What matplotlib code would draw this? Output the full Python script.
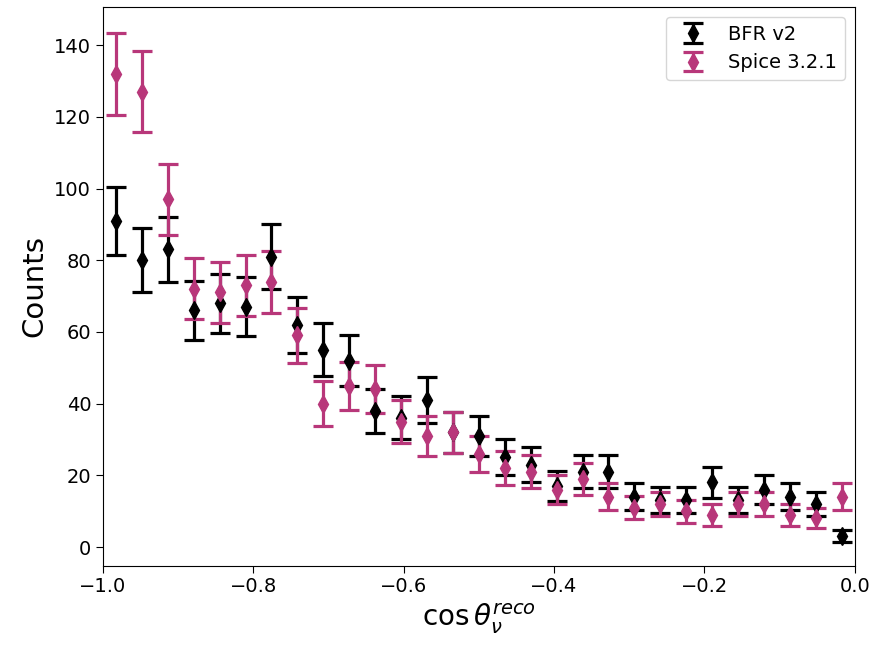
import numpy as np
import matplotlib
matplotlib.use("Agg")
import matplotlib.pyplot as plt

# 29 equal bins in cos(theta) between -1 and 0
bin_edges = np.linspace(-1.0, 0.0, 30)
bfr_counts = [91, 80, 83, 66, 68, 67, 81, 62, 55, 52, 38, 36, 41, 32, 31,
              25, 23, 17, 21, 21, 14, 13, 13, 18, 13, 16, 14, 12, 3]
spice_counts = [132, 127, 97, 72, 71, 73, 74, 59, 40, 45, 44, 35, 31, 32, 26,
                22, 21, 16, 19, 14, 11, 12, 10, 9, 12, 12, 9, 8, 14]
labels = ["BFR v2", "Spice 3.2.1"]
colors = ["black", "#b8377a"]

centers = 0.5 * (bin_edges[:-1] + bin_edges[1:])

fig = plt.figure(figsize=(8.73, 6.45), dpi=100)
ax = fig.add_axes([0.118, 0.123, 0.861, 0.866])

for counts, label, color in zip([bfr_counts, spice_counts], labels, colors):
    counts = np.asarray(counts, dtype=float)
    ax.errorbar(centers, counts, yerr=np.sqrt(counts), fmt="d", color=color,
                markersize=9, elinewidth=2.3, capsize=7.5, capthick=2.3,
                label=label)

ax.set_xlim(-1.0, 0.0)
ax.set_ylim(-5.2, 150.6)
ax.set_xlabel(r"$\cos\theta_{\nu}^{reco}$", fontsize=20)
ax.set_ylabel("Counts", fontsize=21)
ax.tick_params(labelsize=14, length=5)
ax.legend(loc="upper right", fontsize=14)

fig.savefig("out.png", dpi=100)
